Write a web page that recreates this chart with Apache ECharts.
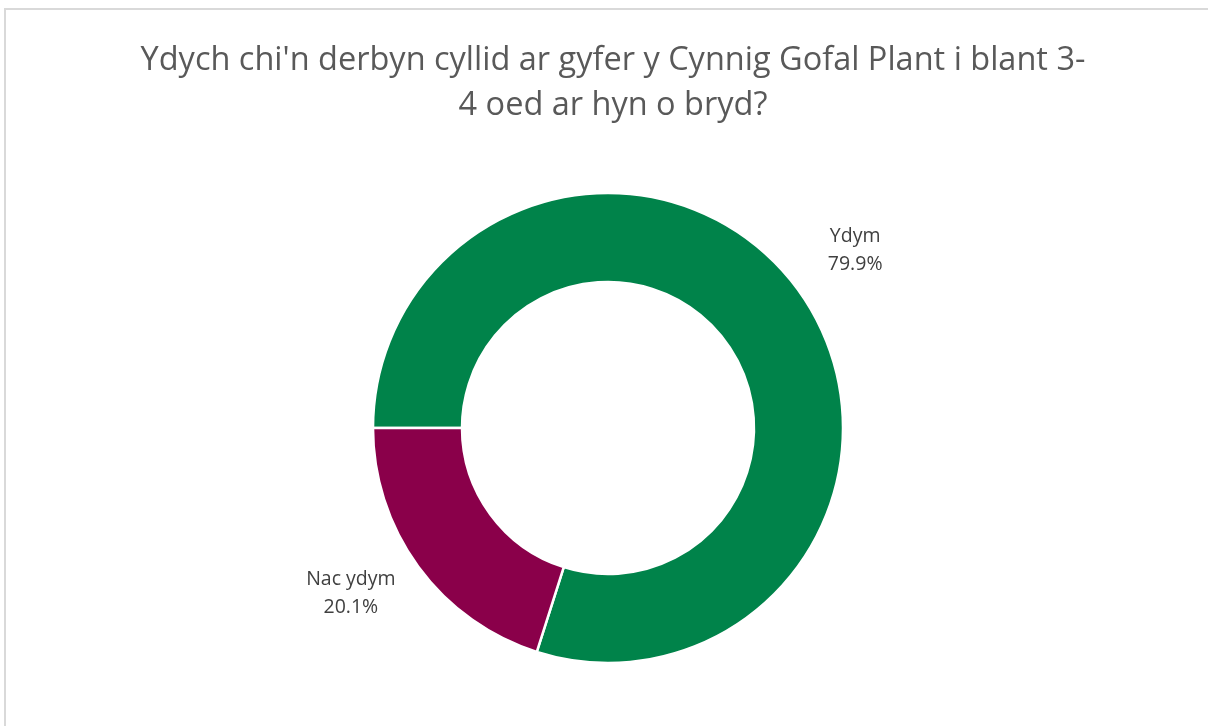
<!DOCTYPE html>
<html>
<head>
<meta charset="utf-8">
<script src="https://cdn.jsdelivr.net/npm/echarts@6/dist/echarts.min.js"></script>
<style>
  html, body { margin: 0; padding: 0; background: #fff; }
  #chart { width: 1208px; height: 726px; }
</style>
</head>
<body>
<div id="chart"></div>
<script>
const titleText = "Ydych chi'n derbyn cyllid ar gyfer y Cynnig Gofal Plant i blant 3-\n4 oed ar hyn o bryd?";
const categories = ['Ydym', 'Nac ydym'];
const values = [79.9, 20.1];
const colors = ['#00834A', '#8A004A'];

const chart = echarts.init(document.getElementById('chart'));

chart.setOption({
  backgroundColor: '#fff',
  animation: false,
  title: {
    text: titleText,
    left: 608,
    top: 33,
    textAlign: 'center',
    textStyle: {
      fontFamily: 'Open Sans',
      fontSize: 32.5,
      fontWeight: 'normal',
      color: '#595959',
      lineHeight: 45
    }
  },
  graphic: [{
    type: 'rect',
    shape: { x: 5, y: 9, width: 1230, height: 760 },
    style: { fill: 'none', stroke: '#d9d9d9', lineWidth: 2 },
    silent: true
  }],
  series: [{
    type: 'pie',
    center: [608, 428],
    radius: [146, 235],
    startAngle: 180,
    clockwise: true,
    avoidLabelOverlap: false,
    itemStyle: { borderColor: '#fff', borderWidth: 2.5 },
    label: {
      show: true,
      position: 'outside',
      formatter: p => '{a|' + p.name + '}\n{a|' + p.value.toFixed(1) + '%}',
      rich: {
        a: {
          fontFamily: 'Open Sans',
          fontSize: 19.5,
          color: '#404040',
          align: 'center',
          lineHeight: 28
        }
      }
    },
    labelLine: { show: false, length: 65, length2: 0 },
    // centre the two-line label on its anchor point
    labelLayout: p => p.align === 'left'
      ? { dx: -p.labelRect.width / 2 }
      : { dx: p.labelRect.width / 2 - 10, dy: -12 },
    data: categories.map((name, i) => ({
      name: name,
      value: values[i],
      itemStyle: { color: colors[i] }
    }))
  }]
});
</script>
</body>
</html>
